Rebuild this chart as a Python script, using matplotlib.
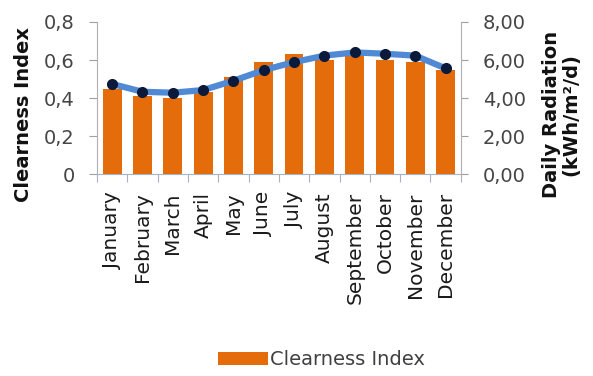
import matplotlib.pyplot as plt
from matplotlib.ticker import FixedLocator, FuncFormatter
import numpy as np

months = ['January', 'February', 'March', 'April', 'May', 'June', 'July',
          'August', 'September', 'October', 'November', 'December']
clearness = [0.45, 0.41, 0.40, 0.43, 0.51, 0.59, 0.63, 0.60, 0.63, 0.60, 0.59, 0.55]
radiation = [4.74, 4.33, 4.28, 4.42, 4.91, 5.47, 5.89, 6.23, 6.40, 6.33, 6.23, 5.56]

plt.rcParams['font.family'] = ['DejaVu Sans']

fig = plt.figure(figsize=(5.93, 3.76), dpi=100)
ax = fig.add_axes([0.1636, 0.537, 0.6134, 0.4045])
ax2 = ax.twinx()

x = np.arange(len(months))
bars = ax.bar(x, clearness, width=0.62, color='#E46C0A', label='Clearness Index', zorder=2)
ax2.plot(x, radiation, color='#5089D4', lw=4.5, marker='o', ms=7,
         mfc='#0B1A3A', mec='#0B1A3A', zorder=3, solid_capstyle='round')

ax.set_xlim(-0.5, len(months) - 0.5)
ax.set_ylim(0, 0.8)
ax2.set_ylim(0, 8)

ax.yaxis.set_major_locator(FixedLocator([0, 0.2, 0.4, 0.6, 0.8]))
ax.yaxis.set_major_formatter(FuncFormatter(
    lambda v, p: '0' if v == 0 else f'{v:.1f}'.replace('.', ',')))
ax2.yaxis.set_major_locator(FixedLocator([0, 2, 4, 6, 8]))
ax2.yaxis.set_major_formatter(FuncFormatter(lambda v, p: f'{v:.2f}'.replace('.', ',')))

# category ticks sit between the bars, labels at the centres
ax.set_xticks(np.arange(-0.5, len(months), 1.0))
ax.set_xticklabels([])
ax.set_xticks(x, minor=True)
ax.set_xticklabels(months, minor=True, rotation=90, fontsize=14.5, color='#1a1a1a')
ax.tick_params(axis='x', which='minor', length=0, pad=13)
ax.tick_params(axis='x', which='major', length=6, color='#A7B3C4', direction='out')

ax.tick_params(axis='y', labelsize=14, labelcolor='#454545', length=6, pad=10,
               color='#A0A0A0')
ax2.tick_params(axis='y', labelsize=14, labelcolor='#454545', length=5, pad=11,
                color='#A0A0A0')

for a in (ax, ax2):
    a.spines['top'].set_visible(False)
    a.spines['left'].set_color('#B0B0B0')
    a.spines['right'].set_color('#B0B0B0')
    a.spines['bottom'].set_color('#A7B3C4')
ax.spines['right'].set_visible(False)
ax2.spines['left'].set_visible(False)
ax2.spines['bottom'].set_visible(False)

fig.text(0.04, 0.695, 'Clearness Index', rotation=90, ha='center', va='center',
         fontsize=14, fontweight='bold', color='#111111')
fig.text(0.946, 0.695, 'Daily Radiation\n(kWh/m²/d)', rotation=90, ha='center',
         va='center', fontsize=14, fontweight='bold', color='#111111',
         linespacing=1.0, multialignment='center')

fig.legend(handles=[bars], loc='center', bbox_to_anchor=(0.542, 0.043),
           frameon=False, fontsize=14, handlelength=2.6, handleheight=0.67,
           handletextpad=0.1, labelcolor='#404040', borderaxespad=0)

fig.savefig('out.png', dpi=100)
